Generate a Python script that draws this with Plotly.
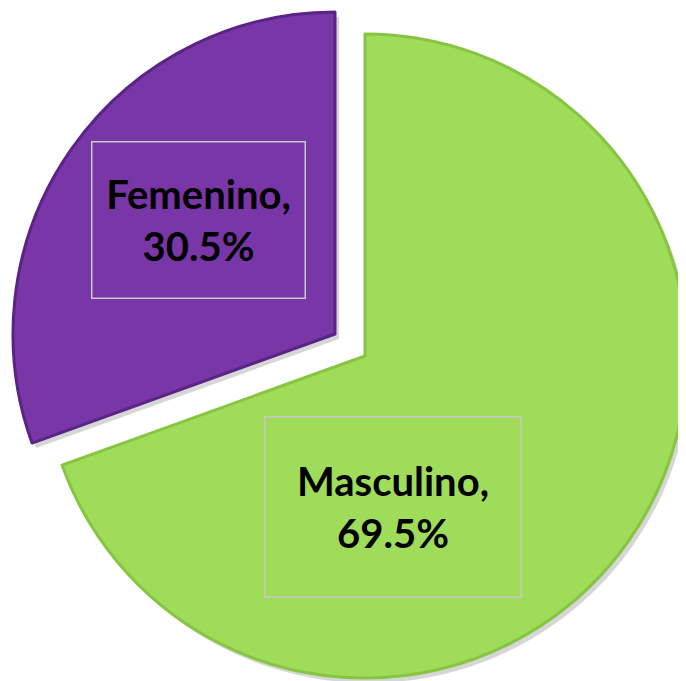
import plotly.graph_objects as go

labels = ["Masculino", "Femenino"]
values = [69.5, 30.5]
colors = ["#9FDC5A", "#7836A6"]
edge_colors = ["#86C442", "#5A2386"]

W, H = 686, 681
OFF = 8  # page body margin

def dom(cx, cy, r):
    cx -= OFF; cy -= OFF
    x0 = max(0, (cx - r) / W); x1 = min(1, (cx + r) / W)
    y0 = max(0, 1 - (cy + r) / H); y1 = min(1, 1 - (cy - r) / H)
    return dict(x=[x0, x1], y=[y0, y1])

centers = [(365, 356), (335, 334)]
R = 322

fig = go.Figure()
# shadows
for i, (cx, cy) in enumerate(centers):
    cols = ["rgba(0,0,0,0)"] * len(values)
    cols[i] = "rgba(0,0,0,0.16)"
    fig.add_trace(go.Pie(
        labels=labels, values=values, sort=False, direction="clockwise", rotation=0,
        marker=dict(colors=cols, line=dict(width=0)), textinfo="none",
        hoverinfo="skip", showlegend=False, domain=dom(cx + 4, cy + 5, R)))
# slices
for i, (cx, cy) in enumerate(centers):
    cols = ["rgba(0,0,0,0)"] * len(values)
    cols[i] = colors[i]
    lc = ["rgba(0,0,0,0)"] * len(values)
    lc[i] = edge_colors[i]
    lw = [0] * len(values)
    lw[i] = 3
    fig.add_trace(go.Pie(
        labels=labels, values=values, sort=False, direction="clockwise", rotation=0,
        marker=dict(colors=cols, line=dict(color=lc, width=lw)), textinfo="none",
        hoverinfo="label+percent", showlegend=False, domain=dom(cx, cy, R)))

boxes = [(393, 507, 257, 181), (198, 220, 214, 157)]
for i, (bx, by, bw, bh) in enumerate(boxes):
    fig.add_annotation(
        x=(bx - OFF) / W, y=1 - (by - OFF) / H, xref="paper", yref="paper",
        xanchor="center", yanchor="middle", showarrow=False,
        text=f"<b>{labels[i]},<br>{values[i]:.1f}%</b>",
        font=dict(family="Lato", size=40, color="black"),
        align="center", valign="middle",
        width=bw - 4, height=bh - 4, borderpad=1,
        bordercolor="#C8C8C8", borderwidth=1.5)

fig.update_layout(width=W, height=H, margin=dict(l=0, r=0, t=0, b=0),
                  paper_bgcolor="white", plot_bgcolor="white")
fig.write_html("out.html")
